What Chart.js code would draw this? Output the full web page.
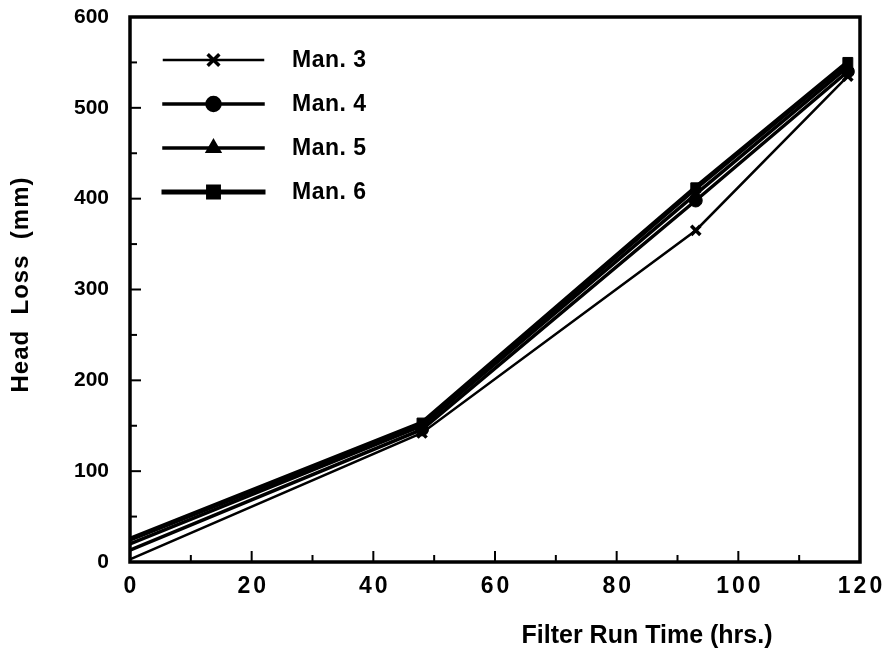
<!DOCTYPE html>
<html>
<head>
<meta charset="utf-8">
<script src="https://cdn.jsdelivr.net/npm/chart.js@4/dist/chart.umd.min.js"></script>
<style>
  html, body { margin: 0; padding: 0; background: #fff; }
  #wrap { width: 884px; height: 655px; }
</style>
</head>
<body>
<div id="wrap"><canvas id="c" width="884" height="655"></canvas></div>
<script>
// Filter run time (hrs.) at each sampling point
const runTime = [0, 48, 93, 118];

// Head loss (mm) per manifold
const man3 = [3, 142, 365, 535];
const man4 = [13, 146, 398, 540];
const man5 = [20, 150, 405, 545];
const man6 = [25, 153, 412, 550];

const seriesLabels = ['Man. 3', 'Man. 4', 'Man. 5', 'Man. 6'];
const xTitle = 'Filter Run Time (hrs.)';
const yTitle = 'Head  Loss  (mm)';
const xTickStep = 20, xMinorStep = 10;
const yTickStep = 100, yMinorStep = 50;

const FONT = '"Liberation Sans", Arial, sans-serif';

function toPoints(ys) { return runTime.map((x, i) => ({ x: x, y: ys[i] })); }

const styles = [
  { pointStyle: 'crossRot', radius: 6.5, lw: 2.5, pbw: 3.5 },
  { pointStyle: 'circle', radius: 6.5, lw: 3.5, pbw: 1 },
  { pointStyle: 'triangle', radius: 6.5, lw: 3.5, pbw: 1 },
  { pointStyle: 'rect', radius: 7, lw: 5, pbw: 1 }
];

// the start point sits on the axis, so no marker is drawn there
function radii(r) { return runTime.map(x => (x === 0 ? 0 : r)); }

const datasets = [man3, man4, man5, man6].map((vals, i) => ({
  label: seriesLabels[i],
  data: toPoints(vals),
  borderColor: '#000',
  backgroundColor: '#000',
  borderWidth: styles[i].lw,
  pointStyle: styles[i].pointStyle,
  pointRadius: radii(styles[i].radius),
  legendRadius: styles[i].radius,
  pointBorderWidth: styles[i].pbw,
  pointBorderColor: '#000',
  pointBackgroundColor: '#000',
  tension: 0,
  order: 3 - i
}));

// Frame, inward tick marks, x tick labels, legend and axis titles
const decorations = {
  id: 'decorations',
  afterDraw(chart) {
    const ctx = chart.ctx;
    const a = chart.chartArea;
    const xs = chart.scales.x, ys = chart.scales.y;
    ctx.save();
    ctx.strokeStyle = '#000';
    ctx.fillStyle = '#000';
    ctx.lineCap = 'square';

    // frame
    ctx.lineWidth = 3.5;
    ctx.strokeRect(a.left, a.top, a.right - a.left, a.bottom - a.top);

    // x ticks (inward from bottom)
    ctx.lineWidth = 2;
    for (let v = xs.min; v <= xs.max; v += xMinorStep) {
      const px = xs.getPixelForValue(v);
      const len = (v % xTickStep === 0) ? 10 : 6;
      ctx.beginPath();
      ctx.moveTo(px, a.bottom);
      ctx.lineTo(px, a.bottom - len);
      ctx.stroke();
    }
    // y ticks (inward from left)
    for (let v = ys.min; v <= ys.max; v += yMinorStep) {
      const py = ys.getPixelForValue(v);
      const len = (v % yTickStep === 0) ? 10 : 6;
      ctx.beginPath();
      ctx.moveTo(a.left, py);
      ctx.lineTo(a.left + len, py);
      ctx.stroke();
    }

    // x tick labels (widely tracked)
    ctx.font = 'bold 23px ' + FONT;
    ctx.letterSpacing = '3px';
    ctx.textAlign = 'center';
    ctx.textBaseline = 'middle';
    for (let v = xs.min; v <= xs.max; v += xTickStep) {
      const px = xs.getPixelForValue(v);
      ctx.fillText(String(v), px + 1.5, a.bottom + 25);
    }
    ctx.letterSpacing = '0px';

    // legend
    const lx0 = a.left + 34, lx1 = a.left + 133, mx = (lx0 + lx1) / 2;
    const rowY0 = a.top + 43, rowGap = 44;
    chart.data.datasets.forEach((ds, i) => {
      const y = rowY0 + i * rowGap;
      ctx.lineWidth = ds.borderWidth;
      ctx.beginPath();
      ctx.moveTo(lx0, y);
      ctx.lineTo(lx1, y);
      ctx.stroke();
      Chart.helpers.drawPoint(ctx, {
        pointStyle: ds.pointStyle,
        radius: ds.legendRadius,
        borderWidth: ds.pointBorderWidth,
        rotation: 0
      }, mx, y);
      ctx.fill();
      ctx.lineWidth = ds.pointBorderWidth;
      ctx.stroke();
      ctx.font = 'bold 23px ' + FONT;
      ctx.letterSpacing = '0.5px';
      ctx.textAlign = 'left';
      ctx.textBaseline = 'middle';
      ctx.fillText(ds.label, a.left + 162, y + 1);
      ctx.letterSpacing = '0px';
    });

    // x-axis title
    ctx.font = 'bold 25px ' + FONT;
    ctx.textAlign = 'center';
    ctx.textBaseline = 'middle';
    ctx.fillText(xTitle, 647, 636);

    // y-axis title
    ctx.translate(21, (a.top + a.bottom) / 2 - 5);
    ctx.rotate(-Math.PI / 2);
    ctx.font = 'bold 24px ' + FONT;
    ctx.letterSpacing = '1px';
    ctx.fillText(yTitle, 0, 0);
    ctx.restore();
  }
};

new Chart(document.getElementById('c'), {
  type: 'line',
  data: { datasets: datasets },
  options: {
    responsive: false,
    animation: false,
    devicePixelRatio: 1,
    layout: { padding: { top: 17, right: 24, left: 0, bottom: 0 } },
    plugins: { legend: { display: false }, tooltip: { enabled: false } },
    scales: {
      x: {
        type: 'linear',
        min: 0, max: 120,
        grid: { display: false, drawTicks: false },
        border: { display: false },
        ticks: { display: false, stepSize: xTickStep },
        afterFit(scale) {
          scale.height = 93;
          scale.paddingLeft = 0;
          scale.paddingRight = 0;
        }
      },
      y: {
        type: 'linear',
        min: 0, max: 600,
        grid: { display: false, drawTicks: false },
        border: { display: false },
        ticks: {
          stepSize: yTickStep,
          color: '#000',
          padding: 21,
          font: { family: FONT, size: 21, weight: 'bold' }
        },
        afterFit(scale) {
          scale.width = 130;
          scale.paddingTop = 0;
          scale.paddingBottom = 0;
        }
      }
    }
  },
  plugins: [decorations]
});
</script>
</body>
</html>
